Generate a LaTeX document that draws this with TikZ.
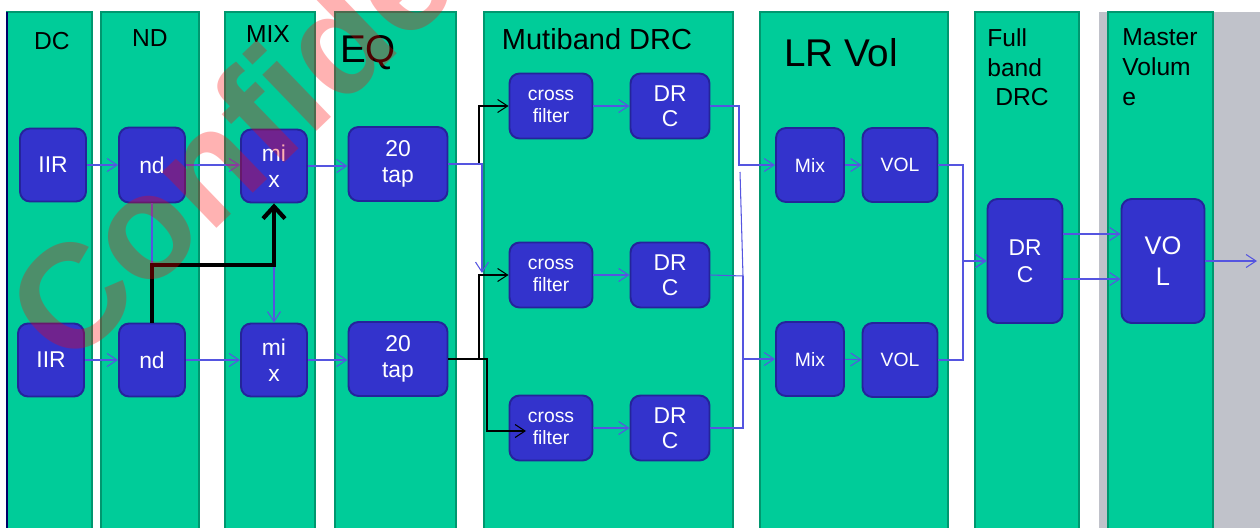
\documentclass[tikz,border=0pt]{standalone}
\usepackage{fontspec}
\setmainfont{Liberation Sans}
\usetikzlibrary{arrows.meta}
\definecolor{pnlgreen}{HTML}{00CC99}
\definecolor{pnlline}{HTML}{00976F}
\definecolor{blkfill}{HTML}{3333CC}
\definecolor{blkline}{HTML}{24249A}
\definecolor{wire}{HTML}{5555E0}
\definecolor{greyband}{HTML}{C0C2CA}
\tikzstyle{pnl}=[fill=pnlgreen, draw=pnlline, line width=1.2pt]
\tikzstyle{hd}=[font=\fontsize{14}{17}\selectfont, inner sep=0, anchor=base]
\tikzstyle{bx}=[shape=rectangle, rounded corners=2mm, fill=blkfill, draw=blkline, line width=1.1pt, text=white, align=center, inner sep=0, font=\fontsize{13}{14.5}\selectfont]
\tikzstyle{sig}=[draw=wire, line width=.6pt, -{Straight Barb[length=2mm,width=2.6mm]}]
\tikzstyle{feed}=[draw=black, line width=.6pt, -{Straight Barb[length=2mm,width=2.6mm]}]
\tikzstyle{fat}=[draw=black, line width=2.4pt, -{Straight Barb[length=2.4mm,width=4.4mm]}]

\begin{document}
\begin{tikzpicture}[x=.02cm, y=-.02cm]
\useasboundingbox (0,0) rectangle (1260,527);
\clip (0,0) rectangle (1260,527);
%\draw[help lines,step=1cm] (0,0) grid (1260,527);
\fill[greyband] (1099,12) rectangle (1260,540);
\draw[pnl] (7,12) rectangle (92,540);
\draw[draw=blue!40!black, line width=1.5pt] (7,12) -- (7,540);
\draw[pnl] (101,12) rectangle (199,540);
\draw[pnl] (225,12) rectangle (315,540);
\draw[pnl] (335,12) rectangle (456,540);
\draw[pnl] (484,12) rectangle (733,540);
\draw[pnl] (760,12) rectangle (948,540);
\draw[pnl] (975,12) rectangle (1079,540);
\draw[pnl] (1108,12) rectangle (1213,540);
% headings
\node at (52,50)[hd](tdc){DC};
\node at (150,47)[hd](tnd){ND};
\node at (268,43)[hd](tmix){MIX};
\node at (368,63)[hd, font=\fontsize{22}{26}\selectfont](teq){EQ};
\node at (597,50)[hd, font=\fontsize{16.5}{20}\selectfont](tmb){Mutiband DRC};
\node at (841,67)[hd, font=\fontsize{22}{26}\selectfont](tlr){LR Vol};
\node at (987,28)[hd, anchor=north west, align=left](tfb){Full\\band\\\hspace*{4.5pt}DRC};
\node at (1122,28)[hd, anchor=north west, align=left](tmv){Master\\Volum\\e};
% blocks
\node at (53,165)[bx, minimum width=1.32cm, minimum height=1.46cm](iir1){IIR};
\node at (51,360)[bx, minimum width=1.32cm, minimum height=1.46cm](iir2){IIR};
\node at (152,165)[bx, minimum width=1.32cm, minimum height=1.5cm](nd1){nd};
\node at (152,360)[bx, minimum width=1.32cm, minimum height=1.46cm](nd2){nd};
\node at (274,166)[bx, minimum width=1.32cm, minimum height=1.46cm](mix1){mi\\x};
\node at (274,360)[bx, minimum width=1.32cm, minimum height=1.46cm](mix2){mi\\x};
\node at (398,164)[bx, minimum width=1.98cm, minimum height=1.48cm](tap1){20\\tap};
\node at (398,359)[bx, minimum width=1.98cm, minimum height=1.48cm](tap2){20\\tap};
\node at (551,106)[bx, minimum width=1.66cm, minimum height=1.3cm, font=\fontsize{11}{12.5}\selectfont](cross1){cross\\filter};
\node at (551,275)[bx, minimum width=1.66cm, minimum height=1.3cm, font=\fontsize{11}{12.5}\selectfont](cross2){cross\\filter};
\node at (551,428)[bx, minimum width=1.66cm, minimum height=1.3cm, font=\fontsize{11}{12.5}\selectfont](cross3){cross\\filter};
\node at (670,106)[bx, minimum width=1.58cm, minimum height=1.3cm](drc1){DR\\C};
\node at (670,275)[bx, minimum width=1.58cm, minimum height=1.3cm](drc2){DR\\C};
\node at (670,428)[bx, minimum width=1.58cm, minimum height=1.3cm](drc3){DR\\C};
\node at (810,165)[bx, minimum width=1.36cm, minimum height=1.48cm, font=\fontsize{11}{13}\selectfont](mixa){Mix};
\node at (900,165)[bx, minimum width=1.5cm, minimum height=1.48cm, font=\fontsize{11}{13}\selectfont](vola){VOL};
\node at (810,359)[bx, minimum width=1.36cm, minimum height=1.48cm, font=\fontsize{11}{13}\selectfont](mixb){Mix};
\node at (900,360)[bx, minimum width=1.5cm, minimum height=1.48cm, font=\fontsize{11}{13}\selectfont](volb){VOL};
\node at (1025,261)[bx, minimum width=1.5cm, minimum height=2.48cm, font=\fontsize{13}{15.5}\selectfont](fdrc){DR\\C};
\node at (1163,261)[bx, minimum width=1.66cm, minimum height=2.48cm, font=\fontsize{14.5}{17.5}\selectfont](mvol){VO\\L};
% bends and loose ends
\coordinate (jn) at (152,265);
\coordinate (eqa) at (479,164);
\coordinate (eqb) at (479,359);
\coordinate (eqc) at (487,359);
\coordinate (cf2in) at (482,273);
\coordinate (x3tip) at (526,431);
\coordinate (bend1) at (739,106);
\coordinate (bend2) at (743,276);
\coordinate (bend3) at (743,428);
\coordinate (tiltend) at (740,172);
\coordinate (vbend1) at (963,165);
\coordinate (vbend2) at (963,360);
\coordinate (fo1) at (1063,234);
\coordinate (fo2) at (1063,279);
\coordinate (outp) at (1257,261);
% signal flow
\draw[sig] (iir1)--(nd1);
\draw[sig] (iir2)--(nd2);
\draw[sig] (nd1.east)--(nd1.east -| mix1.west);
\draw[sig] (nd2)--(mix2);
\draw[sig] (mix1.east)--(mix1.east -| tap1.west);
\draw[sig] (mix2.east)--(mix2.east -| tap2.west);
\draw[sig] (nd1.south)--(jn)-|(mix2);
\draw[fat] (nd2.north)--(jn)-|(mix1);
\draw[feed] (tap1.east)--(eqa)|-(cross1);
\draw[sig] (tap1.east)-|(cf2in);
\draw[feed] (tap2.east)--(eqb)|-(cross2);
\draw[feed] (tap2.east)--(eqc)|-(x3tip);
\draw[sig] (cross1)--(drc1);
\draw[sig] (cross2)--(drc2);
\draw[sig] (cross3)--(drc3);
\draw[sig] (drc1.east)--(bend1)|-(mixa);
\draw[sig, -] (drc2.east)--(bend2)--(tiltend);
\draw[sig, -] (bend2)--(bend3);
\draw[sig] (drc3.east)--(bend3)|-(mixb);
\draw[sig] (mixa)--(vola);
\draw[sig] (mixb)--(volb);
\draw[sig] (vola.east)--(vbend1)|-(fdrc);
\draw[sig] (volb.east)--(vbend2)|-(fdrc);
\draw[sig] (fo1)--(fo1 -| mvol.west);
\draw[sig] (fo2)--(fo2 -| mvol.west);
\draw[sig] (mvol)--(outp);
% watermark
\node at (68,372)[anchor=base west, rotate=44, inner sep=0, text=red, text opacity=.3, font=\fontsize{84}{84}\selectfont\bfseries](wm){Confidential};
\end{tikzpicture}
\end{document}
